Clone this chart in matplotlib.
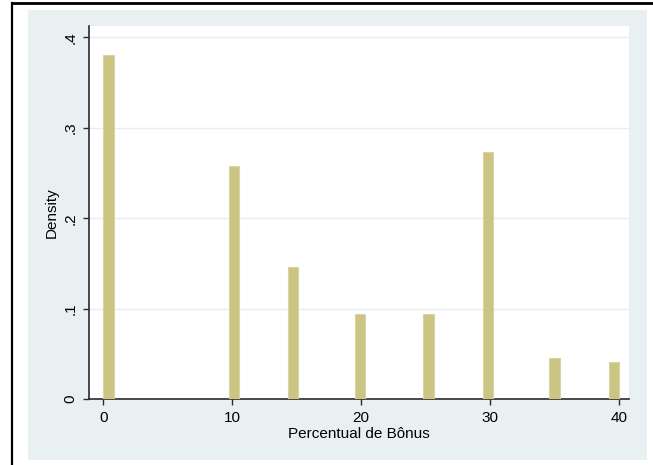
import matplotlib
matplotlib.use("Agg")
import matplotlib.pyplot as plt
from matplotlib.patches import Rectangle
from matplotlib.lines import Line2D

plt.rcParams['font.family'] = ['Liberation Sans', 'DejaVu Sans']

# Histogram bins (left edge of each bar) and their densities
bin_left = [0.0, 9.72, 14.30, 19.52, 24.82, 29.43, 34.60, 39.21]
density = [0.380, 0.258, 0.146, 0.094, 0.094, 0.2735, 0.0457, 0.041]
bin_width = 0.82

x_ticks = [0, 10, 20, 30, 40]
x_tick_labels = ["0", "10", "20", "30", "40"]
y_ticks = [0, 0.1, 0.2, 0.3, 0.4]
y_tick_labels = ["0", ".1", ".2", ".3", ".4"]

W, H = 653, 465
fig = plt.figure(figsize=(W / 100, H / 100), dpi=100, facecolor="white")

# graph region background
fig.patches.append(Rectangle((28 / W, 1 - 460 / H), (647 - 28) / W, (460 - 10) / H,
                             transform=fig.transFigure, facecolor="#E8F0F2",
                             edgecolor="none", zorder=-10))
# outer frame lines (left and top)
fig.lines.append(Line2D([11.5 / W, 11.5 / W], [0, 1 - 3.5 / H], transform=fig.transFigure,
                        color="black", lw=1.6, zorder=-5))
fig.lines.append(Line2D([11.5 / W, 1], [1 - 3.5 / H, 1 - 3.5 / H], transform=fig.transFigure,
                        color="black", lw=2.0, zorder=-5))

ax = fig.add_axes([89 / W, 1 - 399 / H, (628.7 - 89) / W, (399 - 26) / H])
ax.set_zorder(1)
ax.set_facecolor("white")

ax.bar(bin_left, density, width=bin_width, align="edge",
       color="#CCC483", edgecolor="#DAD4A4", linewidth=0.8, zorder=3)

ax.set_xlim(-1.1, 40.75)
ax.set_ylim(0, 0.4126)

ax.set_yticks(y_ticks)
ax.set_yticklabels(y_tick_labels, rotation=90, va="center")
ax.set_xticks(x_ticks)
ax.set_xticklabels(x_tick_labels)

ax.grid(axis="y", color="#E6EEF1", linewidth=1.0, zorder=0)
ax.set_axisbelow(True)

for s in ("top", "right"):
    ax.spines[s].set_visible(False)
for s in ("left", "bottom"):
    ax.spines[s].set_color("#2b2b2b")
    ax.spines[s].set_linewidth(1.2)

ax.tick_params(axis="both", direction="out", length=4.5, width=1.0, color="#2b2b2b",
               labelsize=11, labelcolor="black")
ax.tick_params(axis="x", pad=4)
ax.tick_params(axis="y", pad=4)

ax.set_xlabel("Percentual de Bônus", fontsize=11, labelpad=1.5)
ax.set_ylabel("Density", fontsize=11, labelpad=3)

fig.savefig("out.png", dpi=100, facecolor="white")
